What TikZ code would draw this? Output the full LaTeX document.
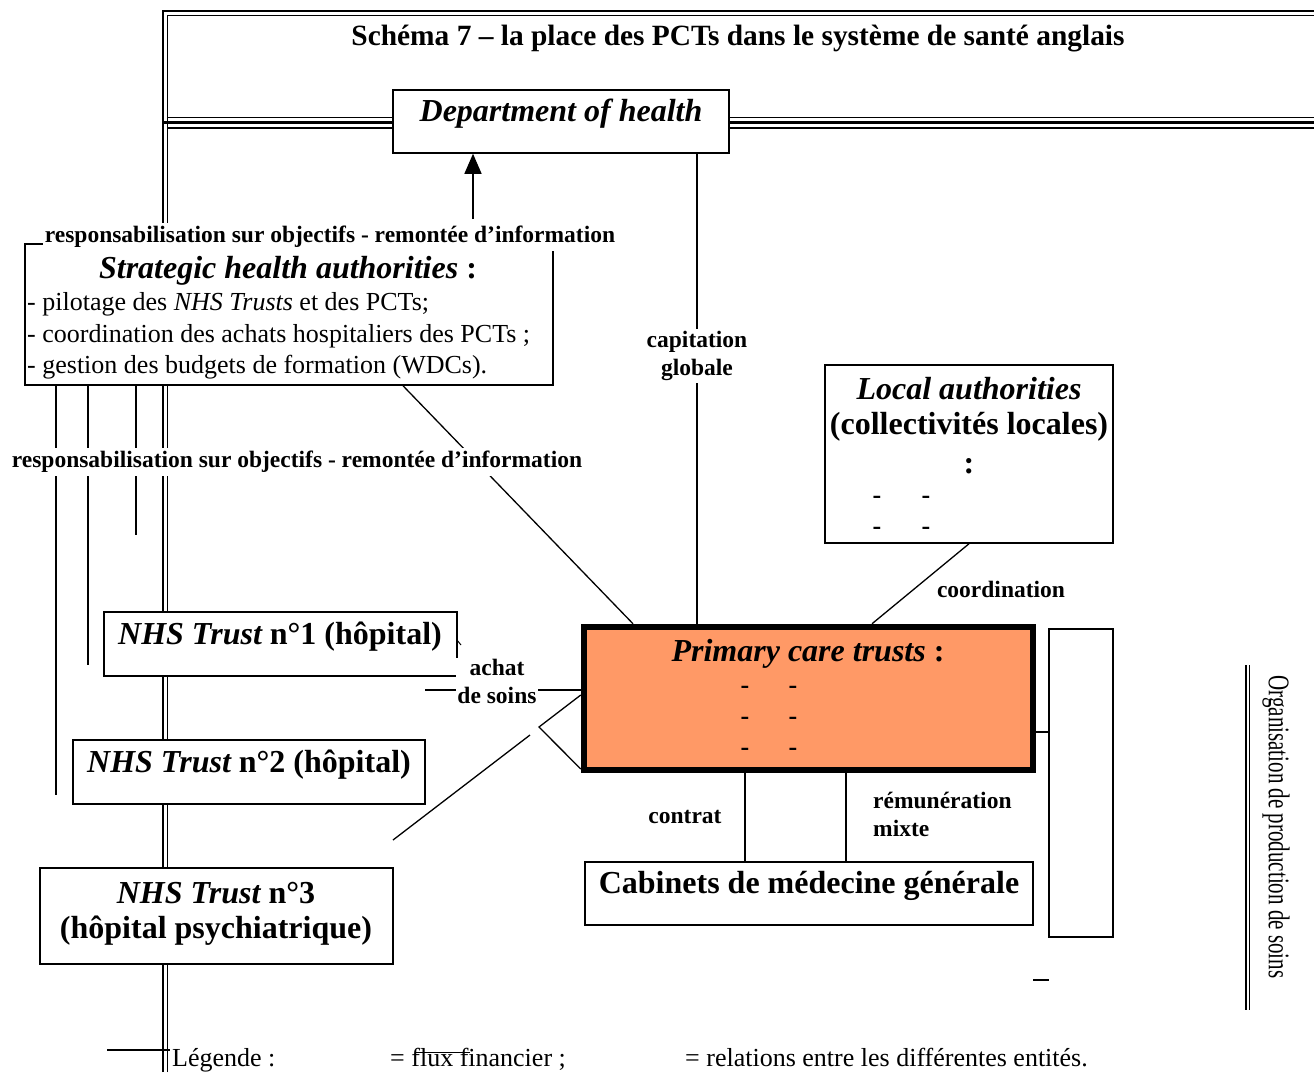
\documentclass[tikz,border=0pt]{standalone}
\usepackage{fontspec}
\setmainfont{Liberation Serif}
\usetikzlibrary{arrows.meta}
\definecolor{pctorange}{HTML}{FF9966}
\begin{document}
\begin{tikzpicture}[x=1pt,y=-1pt,
  box/.style={draw, line width=1.5pt, fill=white, inner sep=0pt},
  hd/.style={font=\fontsize{32}{38}\selectfont\bfseries, inner sep=0pt, align=center},
  lbl/.style={font=\fontsize{23.5}{28}\selectfont\bfseries, align=center, inner sep=2pt},
  wlbl/.style={lbl, fill=white},
  bodytxt/.style={font=\fontsize{26}{31}\selectfont, inner sep=0pt, anchor=base west},
  dsh/.style={font=\fontsize{26}{31}\selectfont\bfseries, inner sep=0pt},
  conn/.style={line width=1.3pt},
]
\fill[white] (0,0) rectangle (1314,1072);
\useasboundingbox (0,0) rectangle (1314,1072);

% ---- frames (double lines)
\draw[line width=2.4pt] (163,1072) -- (163,11) -- (1320,11);
\draw[line width=1.2pt] (167.5,1072) -- (167.5,15.5) -- (1320,15.5);
\draw[line width=1.2pt] (167.5,117.5) -- (1320,117.5);
\draw[line width=3pt] (163,122.5) -- (1320,122.5);
\draw[line width=1.2pt] (167.5,128) -- (1320,128);

% right side double line
\coordinate (orgtop) at (1246,665);
\coordinate (orgbot) at (1246,1010);
\draw[line width=1.3pt] (orgtop) -- (orgbot);
\draw[line width=1.3pt] ([xshift=3.5pt]orgtop) -- ([xshift=3.5pt]orgbot);

% ---- title
\node[font=\fontsize{29.4}{34}\selectfont\bfseries, inner sep=0pt] (title) at (738,39)
  {Schéma 7 – la place des PCTs dans le système de santé anglais};

% ---- boxes
\node[box, minimum width=336pt, minimum height=63pt] (dept) at (561,121.5) {};
\node[hd] (depttxt) at (561,114) {\itshape Department of health};

\node[box, minimum width=528pt, minimum height=141pt] (sha) at (289,314.5) {};

\node[box, minimum width=288pt, minimum height=178pt] (la) at (969,454) {};

\node[draw, line width=6.5pt, fill=pctorange, minimum width=449pt, minimum height=143pt, inner sep=0pt] (pct) at (808.5,698.5) {};

\node[box, minimum width=64pt, minimum height=308pt] (rbox) at (1081,783) {};
\node[box, minimum width=448pt, minimum height=63pt] (cab) at (809,893.5) {};

\node[box, minimum width=353pt, minimum height=64pt] (nhs1) at (280.5,644) {};
\node[box, minimum width=352pt, minimum height=64pt] (nhs2) at (249,772) {};
\node[box, minimum width=353pt, minimum height=96pt] (nhs3) at (216.5,916) {};

% ---- connectors
\coordinate (arrS) at (473,219);
\draw[conn, -{Triangle[width=17pt,length=20pt]}] (arrS) -- (arrS |- dept.south);

\coordinate (capx) at (697,0);
\draw[conn] (capx |- dept.south) -- (capx |- pct.north);

\coordinate (d1) at (403,0);
\coordinate (d2) at (633,0);
\draw[conn] (d1 |- sha.south) -- (d2 |- pct.north);

\coordinate (l1) at (56,795);
\coordinate (l2) at (88,665);
\coordinate (l3) at (136,535);
\draw[conn] (l1 |- sha.south) -- (l1);
\draw[conn] (l2 |- sha.south) -- (l2);
\draw[conn] (l3 |- sha.south) -- (l3);

\coordinate (co1) at (969,0);
\coordinate (co2) at (872,0);
\draw[conn] (co1 |- la.south) -- (co2 |- pct.north);

\coordinate (rc) at (1040,732);
\draw[conn] (rc -| pct.east) -- (rc -| rbox.west);

\coordinate (c1) at (745,0);
\coordinate (c2) at (846,0);
\draw[conn] (c1 |- pct.south) -- (c1 |- cab.north);
\draw[conn] (c2 |- pct.south) -- (c2 |- cab.north);

\coordinate (ach) at (425,690);
\draw[conn] (ach) -- (ach -| pct.west);

\coordinate (vtx) at (539,727);
\coordinate (pa) at (583,695);
\coordinate (pb) at (583,769);
\draw[conn] (pa -| pct.west) -- (vtx) -- (pb -| pct.west);
\coordinate (n3a) at (530,735);
\coordinate (n3b) at (393,840);
\draw[conn] (n3a) -- (n3b);

\coordinate (nk1) at (457,640);
\coordinate (nk2) at (461,645);
\draw[line width=1pt] (nk1) -- (nk2);

\coordinate (dashA) at (1033,980);
\coordinate (dashB) at (1049,980);
\draw[line width=1.6pt] (dashA) -- (dashB);

% ---- texts in boxes
\node[hd] (shatxt) at (288,271) {\itshape Strategic health authorities\upshape\ :};
\node[bodytxt] (sha1) at (27,310) {- pilotage des \textit{NHS Trusts} et des PCTs;};
\node[bodytxt] (sha2) at (27,342) {- coordination des achats hospitaliers des PCTs ;};
\node[bodytxt] (sha3) at (27,373) {- gestion des budgets de formation (WDCs).};

\node[hd] (latxt1) at (969,389) {\itshape Local authorities};
\node[hd] (latxt2) at (969,427) {(collectivités locales)};
\node[hd] (latxt3) at (969,466) {:};
\node[dsh] at (877,500) {-};
\node[dsh] at (926,500) {-};
\node[dsh] at (877,531) {-};
\node[dsh] at (926,531) {-};

\node[hd] (pcttxt) at (808,654) {\itshape Primary care trusts\upshape\ :};
\node[dsh] at (745,690) {-};
\node[dsh] at (793,690) {-};
\node[dsh] at (745,721) {-};
\node[dsh] at (793,721) {-};
\node[dsh] at (745,752) {-};
\node[dsh] at (793,752) {-};

\node[hd] (cabtxt) at (809,886) {Cabinets de médecine générale};

\node[hd] (nhs1txt) at (280,637) {\itshape NHS Trust\upshape\ n°1 (hôpital)};
\node[hd] (nhs2txt) at (249,765) {\itshape NHS Trust\upshape\ n°2 (hôpital)};
\node[hd] (nhs3txt1) at (216,893) {\itshape NHS Trust\upshape\ n°3};
\node[hd] (nhs3txt2) at (216,931) {(hôpital psychiatrique)};

% ---- labels
\node[wlbl, inner ysep=3pt] (lab1) at (330,237) {responsabilisation sur objectifs - remontée d’information};
\node[wlbl, inner ysep=3pt] (lab2) at (297,462) {responsabilisation sur objectifs - remontée d’information};
\node[wlbl] (capl) at (697,356) {capitation\\globale};
\node[lbl] (coordl) at (1001,589) {coordination};
\node[wlbl, inner sep=1pt] (achl) at (497,681) {achat\\de soins};
\node[lbl] (contl) at (685,817) {contrat};
\node[lbl, align=left, anchor=west, inner sep=0pt] (reml) at (873,814) {rémunération\\mixte};

% ---- right vertical title
\node[font=\fontsize{30}{34}\selectfont, rotate=-90, inner sep=0pt] (org) at (1276,827)
  {\scalebox{0.7}[1]{Organisation de production de soins}};

% ---- legend
\coordinate (lg1) at (107,1050);
\coordinate (lg2) at (170,1050);
\draw[conn] (lg1) -- (lg2);
\node[bodytxt] (leg1) at (172,1066) {Légende :};
\node[bodytxt] (leg2) at (390,1066) {= flux financier ;};
\coordinate (lg3) at (415,1052);
\coordinate (lg4) at (470,1052);
\draw[line width=1pt] (lg3) -- (lg4);
\node[bodytxt] (leg3) at (685,1066) {= relations entre les différentes entités.};
\end{tikzpicture}
\end{document}
